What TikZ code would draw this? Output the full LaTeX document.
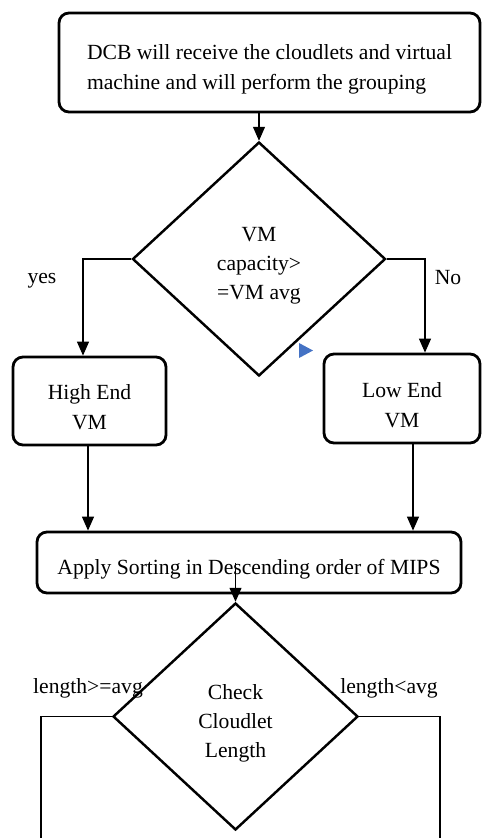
\documentclass[tikz,border=0pt]{standalone}
\usepackage{fontspec}
\setmainfont{Liberation Serif}
\usepackage{tikz}
\usetikzlibrary{positioning}
\usetikzlibrary{shapes}
\usetikzlibrary{arrows.meta}
\definecolor{markBlue}{HTML}{4472C4}
\newcommand{\txtDrop}{\rule{0pt}{0.56cm}}

\tikzset{
	procBox/.style={rectangle, rounded corners=0.2cm, draw=black, line width=1.6pt, align=center, inner sep=2pt, font=\fontsize{12.3}{17}\selectfont},
	decBox/.style={diamond, draw=black, line width=1.4pt, align=center, inner sep=0pt, font=\fontsize{12.3}{16.5}\selectfont},
	branchLabel/.style={inner sep=1pt, anchor=base, font=\fontsize{12.3}{16.5}\selectfont},
	flowLine/.style={line width=0.7pt, -{Triangle[length=0.28cm,width=0.24cm]}},
	plainLine/.style={line width=0.7pt}
}

\begin{document}
\begin{tikzpicture}
	\useasboundingbox (0,0) rectangle (9.64,-16.76);

	\node[procBox, minimum width=8.42cm, minimum height=1.98cm, align=left](dcbBox) at (5.39,-1.25){\txtDrop DCB will receive the cloudlets and virtual\\machine and will perform the grouping};
	\node[decBox, minimum width=5.06cm, minimum height=4.68cm](vmCheck) at (5.18,-5.18){\txtDrop VM\\capacity>\\=VM avg};
	\node[procBox, minimum width=3.06cm, minimum height=1.76cm](highVm) at (1.79,-8.02){\txtDrop High End\\VM};
	\node[procBox, minimum width=3.12cm, minimum height=1.78cm](lowVm) at (8.04,-7.97){\txtDrop Low End\\VM};
	\node[procBox, minimum width=8.48cm, minimum height=1.22cm](sortBox) at (4.98,-11.25){\txtDrop Apply Sorting in Descending order of MIPS};
	\node[decBox, minimum width=4.9cm, minimum height=4.54cm](lenCheck) at (4.71,-14.33){\txtDrop Check\\Cloudlet\\Length};

	\node[branchLabel](yesLabel) at (0.84,-5.67){yes};
	\node[branchLabel](noLabel)  at (8.96,-5.69){No};
	\node[branchLabel](geLabel)  at (1.76,-13.86){length>=avg};
	\node[branchLabel](ltLabel)  at (7.78,-13.86){length<avg};

	\coordinate (leftEnd)  at (0.82,-16.76);
	\coordinate (rightEnd) at (8.80,-16.76);

	\draw[flowLine] (vmCheck.north |- dcbBox.south) -- (vmCheck.north);
	\draw[flowLine] (vmCheck.west) -| ([xshift=-0.13cm]highVm.north);
	\draw[flowLine] (vmCheck.east) -| ([xshift=0.46cm]lowVm.north);
	\draw[flowLine] ([xshift=-0.03cm]highVm.south) -- ([xshift=-0.03cm]highVm.south |- sortBox.north);
	\draw[flowLine] ([xshift=0.22cm]lowVm.south) -- ([xshift=0.22cm]lowVm.south |- sortBox.north);
	\draw[flowLine] (lenCheck.north |- sortBox.center) -- (lenCheck.north);
	\draw[plainLine] (lenCheck.west) -| (leftEnd);
	\draw[plainLine] (lenCheck.east) -| (rightEnd);

	% small blue marker beside the first diamond
	\fill[markBlue] (5.98,-6.86) -- (5.98,-7.16) -- (6.26,-7.01) -- cycle;
\end{tikzpicture}
\end{document}
